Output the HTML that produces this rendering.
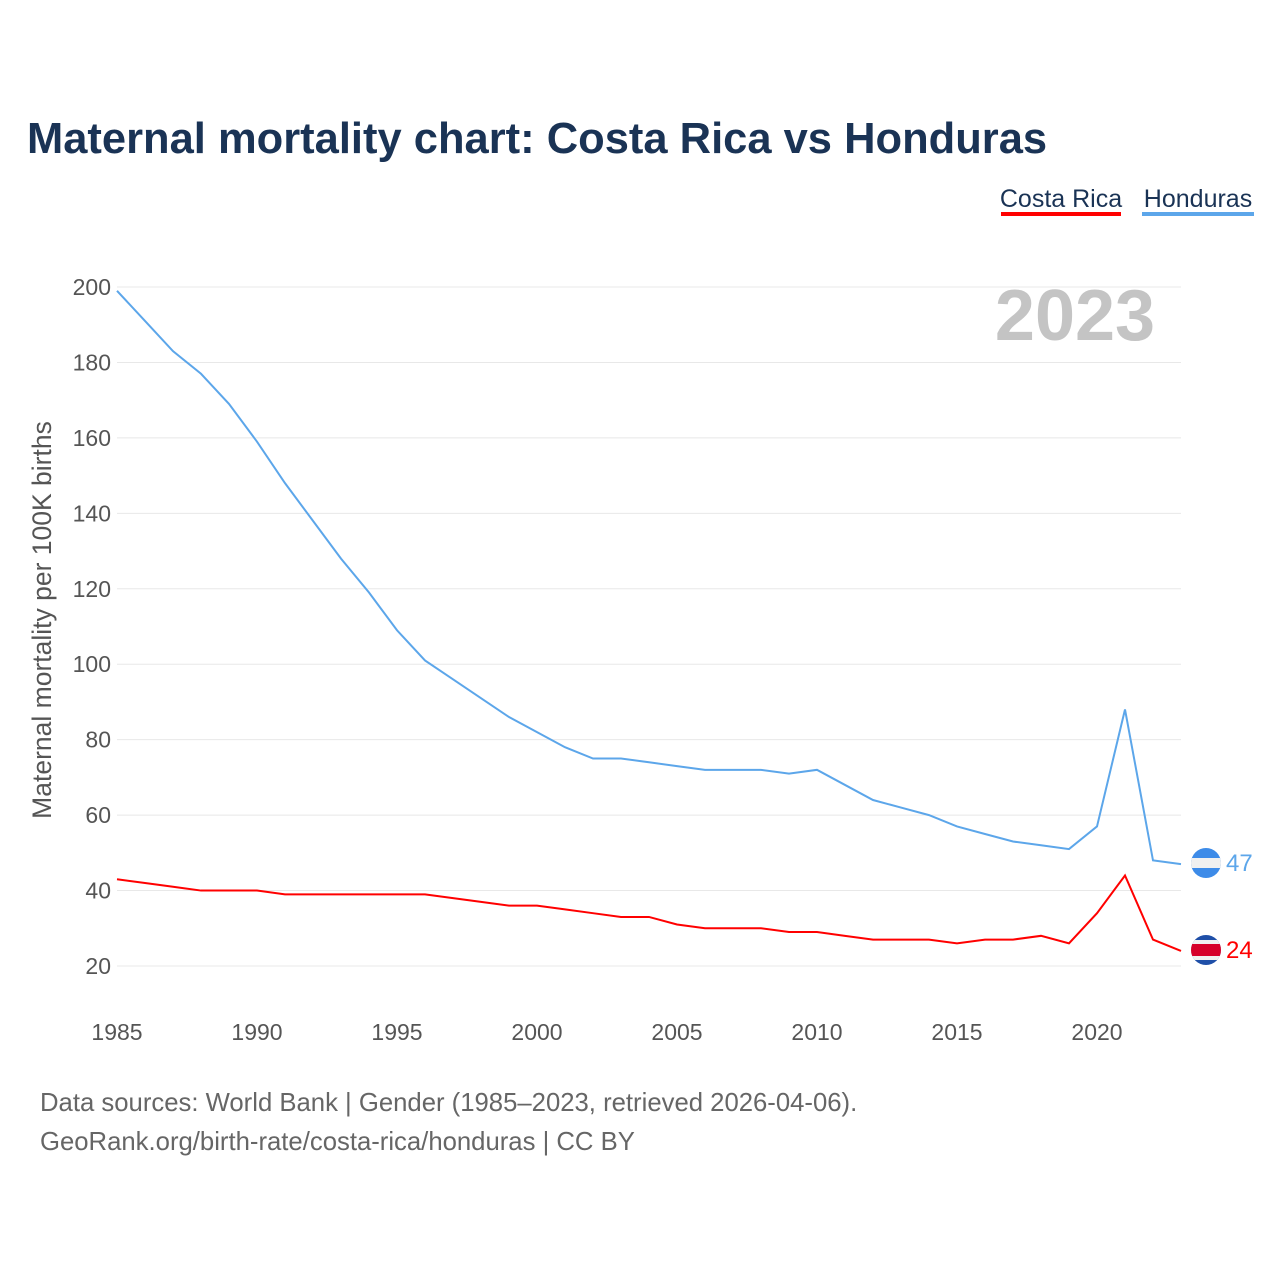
<!DOCTYPE html>
<html><head><meta charset="utf-8"><style>
body{margin:0;background:#fff;font-family:"Liberation Sans",sans-serif}
</style></head><body>
<svg width="1280" height="1280" xmlns="http://www.w3.org/2000/svg" style="font-family:'Liberation Sans',sans-serif">
<text x="27" y="153" font-size="43.5" font-weight="bold" fill="#1a3355">Maternal mortality chart: Costa Rica vs Honduras</text>
<g>
<text x="1061" y="207" font-size="25" fill="#1a3355" text-anchor="middle">Costa Rica</text>
<rect x="1001" y="212" width="120" height="4" fill="#ff0000"/>
<text x="1198" y="207" font-size="25" fill="#1a3355" text-anchor="middle">Honduras</text>
<rect x="1142" y="212" width="112" height="4" fill="#5ca6ea"/>
</g>
<text x="1075" y="340" font-size="72" font-weight="bold" fill="#c4c4c4" text-anchor="middle">2023</text>
<g id="grid"></g><g id="yt"></g><g id="xt"></g>
<text transform="translate(51,620) rotate(-90)" font-size="26.5" fill="#555" text-anchor="middle">Maternal mortality per 100K births</text>
<g id="lines"></g>
<g>
<clipPath id="c1"><circle cx="1206" cy="863" r="15"/></clipPath>
<g clip-path="url(#c1)"><rect x="1190" y="847" width="32" height="32" fill="#3d8be8"/><rect x="1190" y="858" width="32" height="10" fill="#f0f0f0"/></g>
</g>
<g>
<clipPath id="c2"><circle cx="1206" cy="950" r="15"/></clipPath>
<g clip-path="url(#c2)"><rect x="1190" y="934" width="32" height="32" fill="#1f4fa8"/><rect x="1190" y="940" width="32" height="20" fill="#f0f0f0"/><rect x="1190" y="944" width="32" height="12" fill="#d6002a"/></g>
</g>
<text x="1226" y="871" font-size="24" fill="#5ca6ea">47</text>
<text x="1226" y="958" font-size="24" fill="#ff0000">24</text>
<text x="40" y="1111" font-size="25.7" fill="#666">Data sources: World Bank | Gender (1985–2023, retrieved 2026-04-06).</text>
<text x="40" y="1150" font-size="25.7" fill="#666">GeoRank.org/birth-rate/costa-rica/honduras | CC BY</text>
</svg>
<script>
const years=[];for(let y=1985;y<=2023;y++)years.push(y);
const honduras=[199,191,183,177,169,159,148,138,128,119,109,101,96,91,86,82,78,75,75,74,73,72,72,72,71,72,68,64,62,60,57,55,53,52,51,57,88,48,47];
const costaRica=[43,42,41,40,40,40,39,39,39,39,39,39,38,37,36,36,35,34,33,33,31,30,30,30,29,29,28,27,27,27,26,27,27,28,26,34,44,27,24];
const yTicks=[20,40,60,80,100,120,140,160,180,200];
const xTicks=[1985,1990,1995,2000,2005,2010,2015,2020];
const X=v=>117+(v-1985)*28, Y=v=>966-(v-20)*(679/180);
const NS="http://www.w3.org/2000/svg";
function mk(p,t,a){const e=document.createElementNS(NS,t);for(const k in a)e.setAttribute(k,a[k]);p.appendChild(e);return e;}
const g=document.getElementById('grid'),yt=document.getElementById('yt'),xt=document.getElementById('xt'),ln=document.getElementById('lines');
yTicks.forEach(v=>{
 const l=mk(g,'line',{x1:117,x2:1181,y1:Y(v),y2:Y(v),stroke:'#e8e8e8','stroke-width':1});
 
 
 const t=mk(yt,'text',{x:111,y:Y(v)+8,'font-size':23,fill:'#555','text-anchor':'end'});t.textContent=v;
 
 
});
xTicks.forEach(v=>{
 const t=mk(xt,'text',{x:X(v),y:1040,'font-size':23,fill:'#555','text-anchor':'middle'});t.textContent=v;
 
 
});
function line(d,c,n){
 const p=mk(ln,'polyline',{points:d.map((v,i)=>X(years[i])+','+Y(v)).join(' '),fill:'none',stroke:c,'stroke-width':2});
 
 
}
line(honduras,'#5ca6ea','honduras-line');
line(costaRica,'#ff0000','costa-rica-line');
</script>
</body></html>
